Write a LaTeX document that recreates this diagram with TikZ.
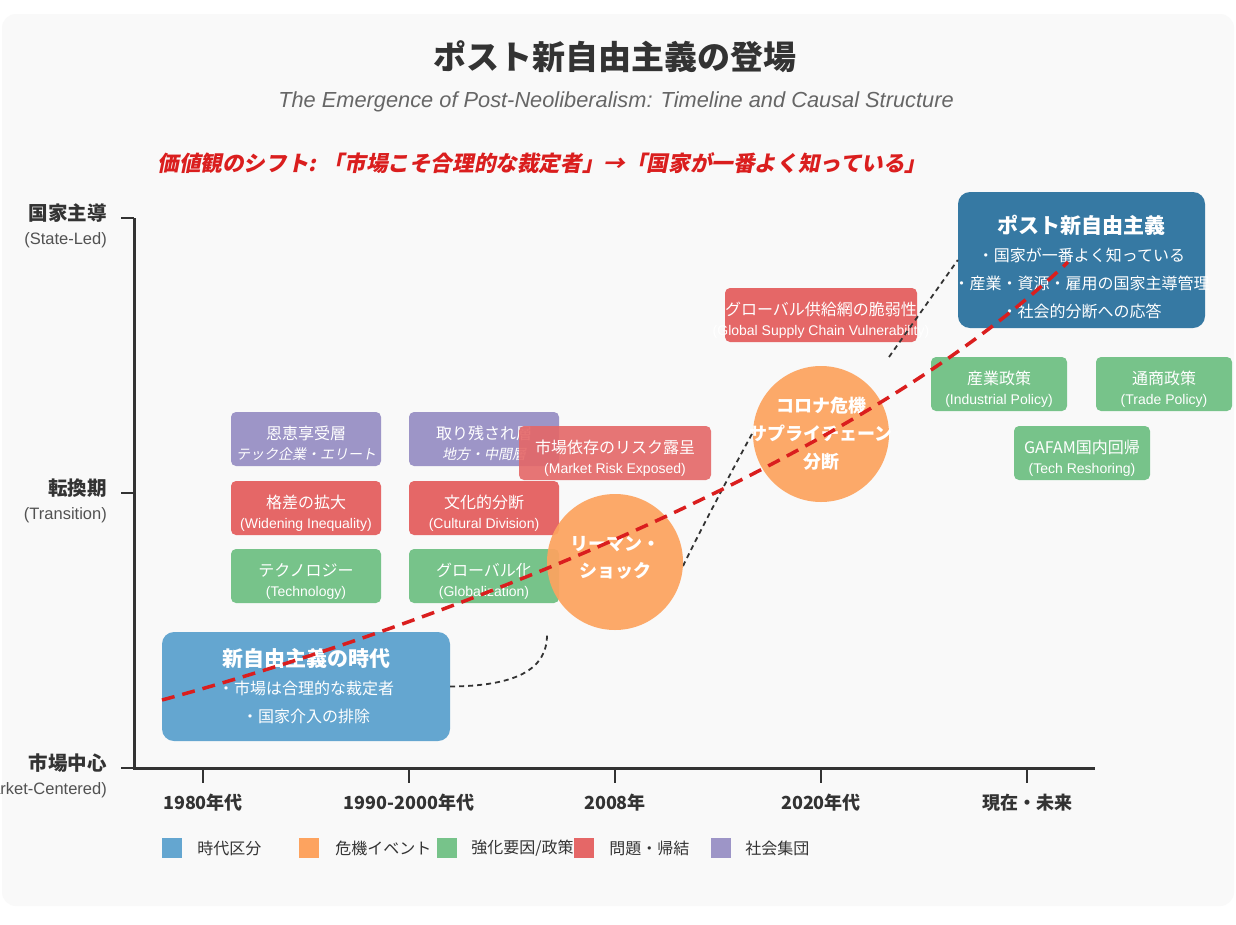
\documentclass[tikz,border=0pt]{standalone}
\usepackage{fontspec}
\usepackage{xcolor}
\setmainfont{Liberation Sans}
\newfontfamily\jp{Noto Sans CJK JP}
\newfontfamily\jpsl[FakeSlant=0.2]{Noto Sans CJK JP}
\usetikzlibrary{positioning}

\definecolor{era}{RGB}{100,166,208}
\definecolor{postera}{RGB}{54,121,163}
\definecolor{crisis}{RGB}{253,163,95}
\definecolor{factor}{RGB}{119,195,138}
\definecolor{issue}{RGB}{229,103,103}
\definecolor{group}{RGB}{157,149,199}
\definecolor{ink}{RGB}{51,51,51}
\definecolor{subgray}{RGB}{102,102,102}
\definecolor{shiftred}{RGB}{218,30,30}
\definecolor{card}{RGB}{249,249,249}

\newcommand{\sz}[1]{\fontsize{#1}{#1}\selectfont}
% a line that may run past the edge of its shape
\newcommand{\overhang}[1]{\makebox[0pt]{#1}}
% two-line text of a small box
\newcommand{\boxlines}[2]{{\jp\rule{0pt}{23pt}#1}\\{\sz{14}#2}}

\tikzset{
    small-box/.style = {rectangle, rounded corners=5pt, minimum width=150pt, minimum height=54pt, inner sep=0pt, text=white, align=center, font=\fontsize{16}{20}\selectfont},
    group-box/.style = {small-box, fill=group},
    issue-box/.style = {small-box, fill=issue},
    factor-box/.style = {small-box, fill=factor},
    era-box/.style = {rectangle, rounded corners=12pt, inner sep=0pt, text=white, align=center, font=\jp\fontsize{16}{28}\selectfont},
    crisis-circle/.style = {circle, fill=crisis, fill opacity=0.93, text opacity=1, text=white, minimum size=136pt, inner sep=0pt, align=center},
    causal-line/.style = {draw=ink, line width=1.8pt, dash pattern=on 5pt off 4pt},
    trend-line/.style = {draw=shiftred, line width=3.5pt, dash pattern=on 13pt off 8pt},
    axis-line/.style = {draw=ink, line width=3pt},
    tick-line/.style = {draw=ink, line width=2pt},
    axis-label/.style = {anchor=east, inner sep=0pt, text=ink, font=\jp\bfseries\sz{19.5}},
    axis-sub/.style = {anchor=east, inner sep=0pt, text=ink!85, font=\sz{16.5}},
    tick-label/.style = {inner sep=0pt, text=ink, font=\jp\bfseries\sz{18}},
    legend-key/.style = {rectangle, minimum size=20pt, inner sep=0pt},
    legend-text/.style = {inner sep=0pt, text=ink, font=\jp\sz{16}},
}

\begin{document}
\begin{tikzpicture}[x=1pt, y=-1pt]
\useasboundingbox (0,0) rectangle (1236,924);
\fill[white] (0,0) rectangle (1236,924);
\fill[card, rounded corners=14pt] (2,14) rectangle (1234,906);

% titles
\node[text=ink, font=\jp\bfseries\sz{33}] (title) at (615,57) {ポスト新自由主義の登場};
\node[text=subgray, font=\itshape\sz{21.8}] (subtitle) at (616,102) {The Emergence of Post-Neoliberalism: Timeline and Causal Structure};
\node[text=shiftred, font=\jpsl\bfseries\sz{21.6}] (value-shift) at (542,163) {価値観のシフト: 「市場こそ合理的な裁定者」→「国家が一番よく知っている」};

% axes
\draw[axis-line] (134,218) -- (134,768) -- (1095,768);
\foreach \y/\jl/\el in {218/国家主導/(State-Led), 493/転換期/(Transition), 768/市場中心/(Market-Centered)} {
    \draw[tick-line] (121,\y) -- (134,\y);
    \node[axis-label] (ylab-\y) at (107,\y-5) {\jl};
    \node[axis-sub] (ysub-\y) at (107,\y+22) {\el};
}
\foreach \x/\lab in {203/1980年代, 409/1990-2000年代, 615/2008年, 821/2020年代, 1027/現在・未来} {
    \draw[tick-line] (\x,768) -- (\x,783);
    \node[tick-label] (xlab-\x) at (\x,803) {\lab};
}

% social groups, issues, drivers
\node[group-box] (winners) at (306,439) {{\jp\rule{0pt}{23pt}恩恵享受層}\\{\jpsl\sz{14}テック企業・エリート}};
\node[group-box] (left-behind) at (484,439) {{\jp\rule{0pt}{23pt}取り残され層}\\{\jpsl\sz{14}地方・中間層}};
\node[issue-box] (inequality) at (306,508) {\boxlines{格差の拡大}{(Widening Inequality)}};
\node[issue-box] (division) at (484,508) {\boxlines{文化的分断}{(Cultural Division)}};
\node[factor-box] (technology) at (306,576) {\boxlines{テクノロジー}{(Technology)}};
\node[factor-box] (globalization) at (484,576) {\boxlines{グローバル化}{(Globalization)}};
\node[issue-box, minimum width=192pt, fill opacity=0.9, text opacity=1] (market-risk) at (615,453) {\boxlines{市場依存のリスク露呈}{(Market Risk Exposed)}};
\node[issue-box, minimum width=192pt] (supply-chain) at (821,315) {\boxlines{\overhang{グローバル供給網の脆弱性}}{\overhang{(Global Supply Chain Vulnerability)}}};
\node[factor-box, minimum width=136pt] (industrial) at (999,384) {\boxlines{産業政策}{(Industrial Policy)}};
\node[factor-box, minimum width=136pt] (trade) at (1164,384) {\boxlines{通商政策}{(Trade Policy)}};
\node[factor-box, minimum width=136pt] (reshoring) at (1082,453) {\boxlines{GAFAM国内回帰}{(Tech Reshoring)}};

% eras
\node[era-box, fill=era, minimum width=288pt, minimum height=109pt] (neo) at (306,686.5) {{\bfseries\sz{21}新自由主義の時代}\\・市場は合理的な裁定者\\・国家介入の排除};
\node[era-box, fill=postera, minimum width=247pt, minimum height=136pt] (post) at (1081.5,260) {{\bfseries\sz{21}\rule{0pt}{32pt}ポスト新自由主義}\\・国家が一番よく知っている\\\overhang{・産業・資源・雇用の国家主導管理}\\・社会的分断への応答};

% causal links
\coordinate (lehman-foot) at (547,635);
\coordinate (covid-top) at (889,357);
\draw[causal-line] (neo.east) .. controls (515,686) and (547,670) .. (lehman-foot);
\draw[causal-line] (683,566) .. controls (703,525) and (735,465) .. (753,432);
\draw[causal-line] (covid-top) -- (post.west);

% crises
\node[crisis-circle, font=\jp\bfseries\fontsize{18}{27}\selectfont, text depth=10pt] (lehman) at (615,562) {リーマン・\\ショック};
\node[crisis-circle, font=\jp\bfseries\fontsize{18}{28}\selectfont] (covid) at (821,434) {コロナ危機\\\overhang{サプライチェーン}\\分断};

% trend of the value shift
\coordinate (trend-start) at (162,700);
\coordinate (trend-end) at (1068,262);
\draw[trend-line] (trend-start) .. controls (420,630) and (850,470) .. (trend-end);

% legend
\node[legend-key, fill=era] (key-era) at (172,848) {};
\node[legend-text, right=15pt of key-era] (txt-era) {時代区分};
\node[legend-key, fill=crisis] (key-crisis) at (309,848) {};
\node[legend-text, right=16pt of key-crisis] (txt-crisis) {危機イベント};
\node[legend-key, fill=factor] (key-factor) at (447,848) {};
\node[legend-text, right=14pt of key-factor] (txt-factor) {強化要因/政策};
\node[legend-key, fill=issue] (key-issue) at (584,848) {};
\node[legend-text, right=15pt of key-issue] (txt-issue) {問題・帰結};
\node[legend-key, fill=group] (key-group) at (721,848) {};
\node[legend-text, right=14pt of key-group] (txt-group) {社会集団};
\end{tikzpicture}
\end{document}
